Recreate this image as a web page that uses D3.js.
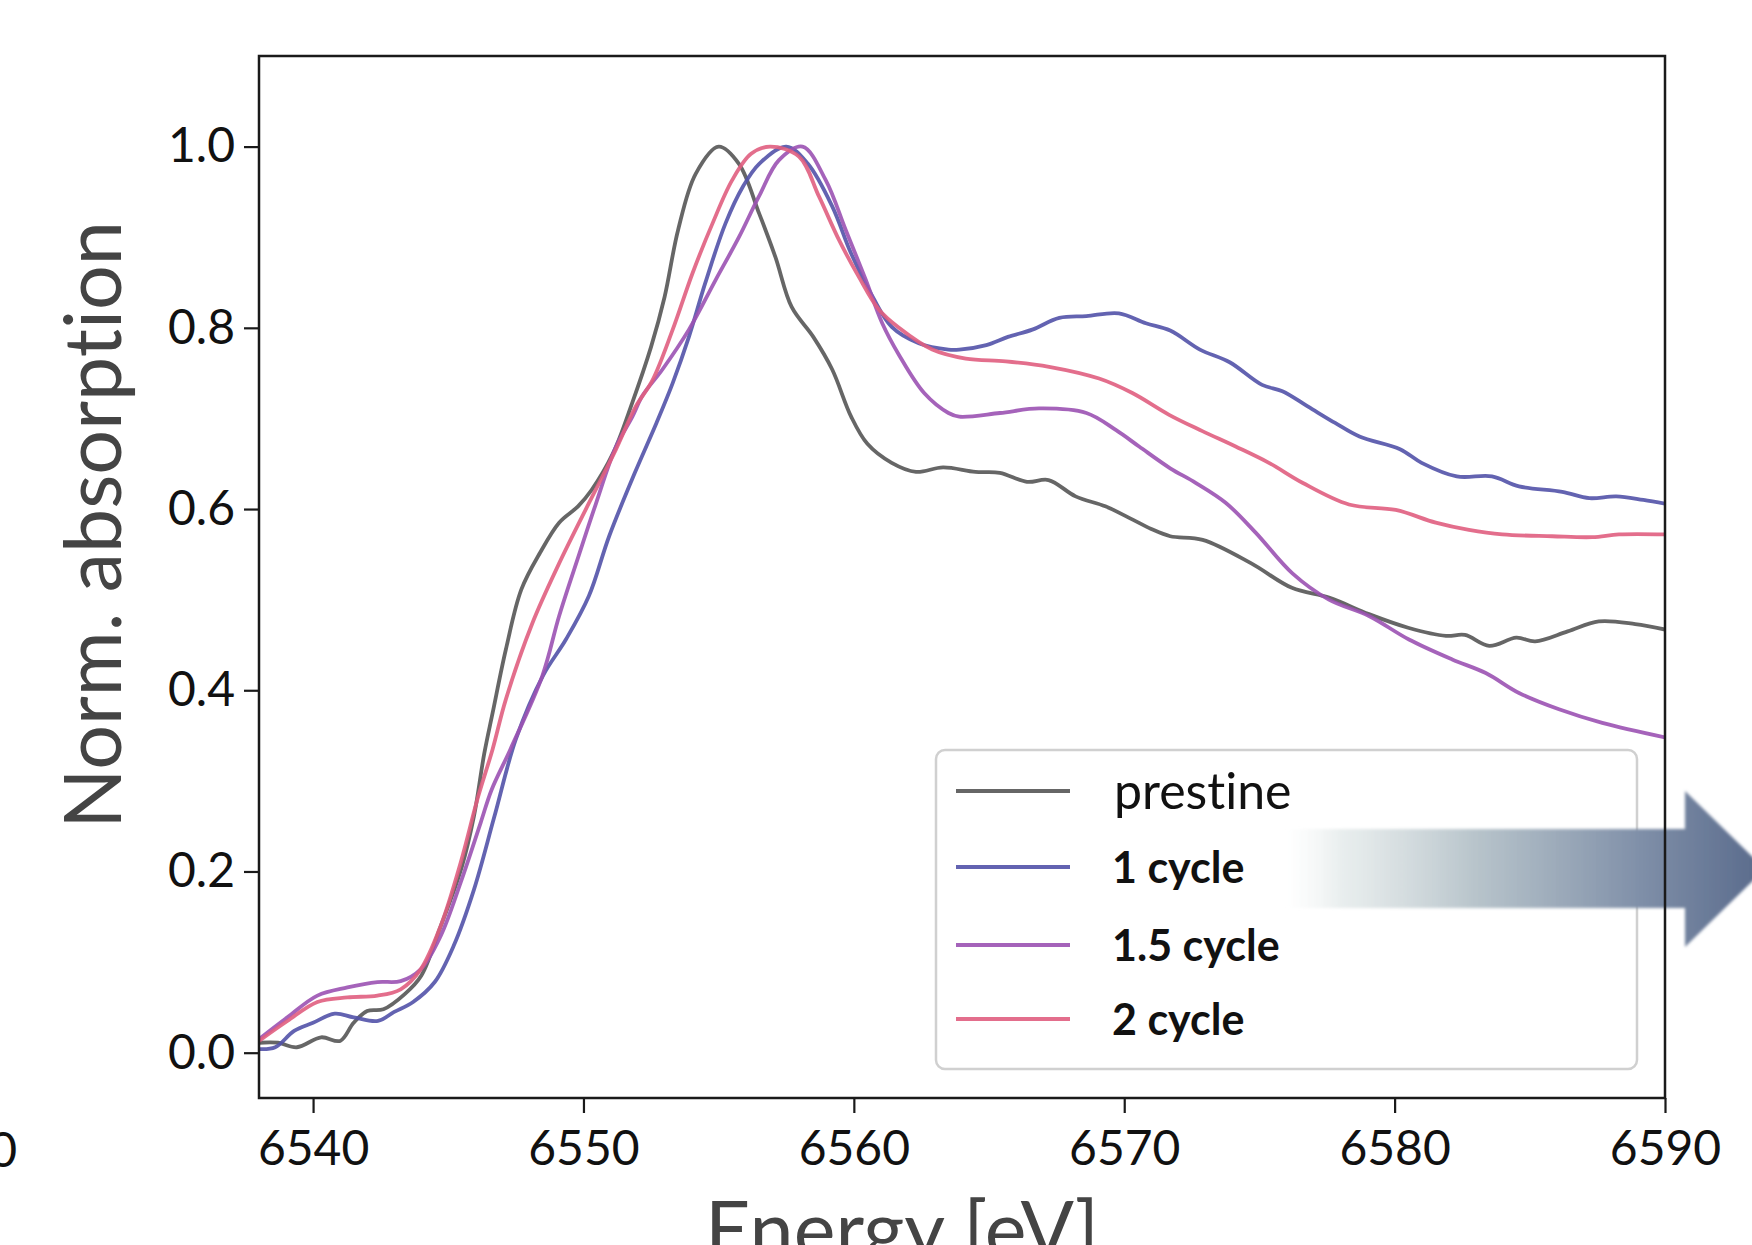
<!DOCTYPE html>
<html>
<head>
<meta charset="utf-8">
<script src="https://cdn.jsdelivr.net/npm/d3@7"></script>
<style>
  html, body { margin: 0; padding: 0; background: #ffffff; overflow: hidden; }
  svg { display: block; }
  text { font-variant-ligatures: none; font-feature-settings: "liga" 0, "clig" 0; }
</style>
</head>
<body>
<svg id="chart" width="1752" height="1245"></svg>
<script>
// ---------------- DATA ----------------
const seriesNames = ["prestine", "1 cycle", "1.5 cycle", "2 cycle"];
const seriesColors = ["#555555", "#5252a8", "#9b52b3", "#e05e80"];
const xTicks = [6540, 6550, 6560, 6570, 6580, 6590];
const yTicks = [0.0, 0.2, 0.4, 0.6, 0.8, 1.0];

const prestineE = [6538.0, 6538.7, 6539.4, 6540.3, 6541.0, 6541.5, 6542.0, 6542.6, 6543.4, 6544.0, 6544.7, 6545.5, 6545.95, 6546.33, 6546.64, 6547.13, 6547.7, 6548.4, 6549.1, 6549.8, 6550.3, 6551.1, 6551.8, 6552.5, 6553.0, 6553.5, 6554.15, 6555.0, 6555.75, 6556.5, 6557.1, 6557.7, 6558.5, 6559.2, 6559.9, 6560.5, 6561.4, 6562.3, 6563.3, 6564.5, 6565.4, 6566.4, 6567.2, 6568.2, 6569.3, 6570.2, 6571.0, 6571.7, 6572.9, 6574.7, 6576.2, 6577.6, 6579.05, 6580.5, 6581.9, 6582.6, 6583.5, 6584.5, 6585.2, 6586.4, 6587.55, 6588.9, 6590.0];
const prestineMu = [0.011, 0.011, 0.006, 0.017, 0.013, 0.033, 0.046, 0.048, 0.065, 0.085, 0.138, 0.205, 0.261, 0.330, 0.375, 0.445, 0.511, 0.552, 0.585, 0.603, 0.621, 0.662, 0.717, 0.779, 0.834, 0.908, 0.970, 1.000, 0.981, 0.926, 0.878, 0.823, 0.790, 0.754, 0.702, 0.672, 0.651, 0.641, 0.646, 0.641, 0.640, 0.630, 0.632, 0.614, 0.603, 0.590, 0.578, 0.570, 0.566, 0.540, 0.513, 0.502, 0.484, 0.469, 0.460, 0.461, 0.449, 0.458, 0.454, 0.465, 0.476, 0.473, 0.467];

const cycle1E = [6538.0, 6538.6, 6539.3, 6540.0, 6540.8, 6541.5, 6542.4, 6543.0, 6543.7, 6544.5, 6545.2, 6545.95, 6546.7, 6547.5, 6548.5, 6549.35, 6550.2, 6550.95, 6551.9, 6552.7, 6553.3, 6553.9, 6554.5, 6555.25, 6555.9, 6556.5, 6557.5, 6558.3, 6559.2, 6559.9, 6560.7, 6561.4, 6562.4, 6563.5, 6563.9, 6564.9, 6565.7, 6566.6, 6567.6, 6568.6, 6569.8, 6570.8, 6571.7, 6572.8, 6573.9, 6575.1, 6575.85, 6576.8, 6577.8, 6578.7, 6580.2, 6581.0, 6582.3, 6583.6, 6584.6, 6586.2, 6587.2, 6588.2, 6589.2, 6590.0];
const cycle1Mu = [0.004, 0.006, 0.024, 0.033, 0.043, 0.039, 0.035, 0.045, 0.056, 0.078, 0.118, 0.180, 0.260, 0.346, 0.416, 0.456, 0.504, 0.570, 0.640, 0.695, 0.739, 0.790, 0.849, 0.915, 0.956, 0.981, 1.000, 0.981, 0.934, 0.882, 0.834, 0.801, 0.783, 0.776, 0.776, 0.781, 0.790, 0.798, 0.811, 0.813, 0.816, 0.805, 0.797, 0.776, 0.762, 0.737, 0.730, 0.713, 0.695, 0.680, 0.666, 0.651, 0.636, 0.636, 0.625, 0.619, 0.612, 0.614, 0.610, 0.606];

const cycle15E = [6538.0, 6539.05, 6540.16, 6541.27, 6542.38, 6543.24, 6543.98, 6544.72, 6545.46, 6546.2, 6546.6, 6547.3, 6548.48, 6549.1, 6549.84, 6550.45, 6551.19, 6551.81, 6552.18, 6552.92, 6553.9, 6554.89, 6555.75, 6556.49, 6557.23, 6558.1, 6558.96, 6559.7, 6560.44, 6561.05, 6561.67, 6562.6, 6563.5, 6563.9, 6565.4, 6566.85, 6568.6, 6569.7, 6570.55, 6571.7, 6572.64, 6573.75, 6574.86, 6576.22, 6577.57, 6579.05, 6580.53, 6582.13, 6583.37, 6584.6, 6586.08, 6587.68, 6590.0];
const cycle15Mu = [0.015, 0.039, 0.063, 0.072, 0.078, 0.079, 0.092, 0.129, 0.188, 0.254, 0.290, 0.335, 0.416, 0.482, 0.550, 0.605, 0.668, 0.702, 0.725, 0.754, 0.798, 0.853, 0.900, 0.945, 0.985, 1.000, 0.963, 0.908, 0.853, 0.805, 0.770, 0.728, 0.706, 0.702, 0.706, 0.711, 0.706, 0.687, 0.669, 0.645, 0.629, 0.607, 0.574, 0.529, 0.500, 0.482, 0.456, 0.434, 0.419, 0.397, 0.379, 0.364, 0.348];

const cycle2E = [6538.0, 6539.05, 6540.16, 6541.27, 6542.38, 6543.24, 6543.98, 6544.72, 6545.46, 6546.08, 6546.64, 6547.13, 6548.11, 6549.1, 6550.21, 6551.19, 6551.93, 6552.55, 6553.3, 6554.03, 6554.77, 6555.5, 6556.2, 6556.9, 6557.97, 6558.71, 6559.45, 6560.19, 6560.93, 6561.67, 6562.9, 6564.14, 6565.62, 6567.22, 6569.07, 6570.3, 6571.66, 6572.89, 6574.12, 6575.35, 6576.59, 6578.31, 6580.04, 6581.52, 6582.75, 6583.98, 6585.83, 6587.31, 6588.3, 6590.0];
const cycle2Mu = [0.013, 0.035, 0.056, 0.061, 0.063, 0.070, 0.092, 0.140, 0.210, 0.280, 0.335, 0.390, 0.474, 0.540, 0.607, 0.665, 0.713, 0.742, 0.798, 0.860, 0.915, 0.963, 0.992, 1.000, 0.989, 0.945, 0.897, 0.856, 0.820, 0.800, 0.776, 0.766, 0.763, 0.757, 0.744, 0.728, 0.704, 0.686, 0.669, 0.651, 0.629, 0.605, 0.599, 0.585, 0.577, 0.572, 0.570, 0.569, 0.572, 0.572];

const seriesE = [prestineE, cycle1E, cycle15E, cycle2E];
const seriesMu = [prestineMu, cycle1Mu, cycle15Mu, cycle2Mu];

// ---------------- LAYOUT ----------------
(function draw() {
const svg = d3.select("#chart");
const pL = 259, pR = 1665, pT = 56, pB = 1098;
const FONT = "Lato, 'Open Sans', sans-serif";

const x = d3.scaleLinear().domain([6538, 6590]).range([pL, pR]);
const y = d3.scaleLinear().domain([-0.05, 1.1]).range([pB, pT]);

const defs = svg.append("defs");
defs.append("clipPath").attr("id", "plotclip")
  .append("rect").attr("x", pL).attr("y", pT).attr("width", pR - pL).attr("height", pB - pT);

// lines
const line = d3.line().x(d => x(d[0])).y(d => y(d[1])).curve(d3.curveCatmullRom.alpha(0.5));
const gLines = svg.append("g").attr("clip-path", "url(#plotclip)");
seriesNames.forEach((name, i) => {
  const pts = seriesE[i].map((e, k) => [e, seriesMu[i][k]]);
  gLines.append("path")
    .datum(pts)
    .attr("d", line)
    .attr("fill", "none")
    .attr("stroke", seriesColors[i])
    .attr("stroke-width", 3.8)
    .attr("stroke-opacity", 0.9)
    .attr("stroke-linejoin", "round");
});

// axes
const yAxis = d3.axisLeft(y).tickValues(yTicks).tickFormat(d3.format(".1f")).tickSize(15).tickPadding(9);
const xAxis = d3.axisBottom(x).tickValues(xTicks).tickFormat(d3.format("d")).tickSize(15).tickPadding(18);

const gy = svg.append("g").attr("transform", `translate(${pL},0)`).call(yAxis);
const gx = svg.append("g").attr("transform", `translate(0,${pB})`).call(xAxis);
[gx, gy].forEach(g => {
  g.select(".domain").remove();
  g.selectAll(".tick line").attr("stroke", "#1a1a1a").attr("stroke-width", 2.2);
  g.selectAll(".tick text").attr("fill", "#111").style("font-family", FONT).style("font-size", "48px");
});

// legend
const legX = 936, legY = 750, legW = 701, legH = 319;
const gLeg = svg.append("g");
gLeg.append("rect")
  .attr("x", legX).attr("y", legY).attr("width", legW).attr("height", legH)
  .attr("rx", 9).attr("ry", 9)
  .attr("fill", "#ffffff").attr("fill-opacity", 0.85)
  .attr("stroke", "#d0d0d0").attr("stroke-width", 2.5);
const legRowY = [791, 867, 945, 1019];
seriesNames.forEach((name, i) => {
  gLeg.append("line")
    .attr("x1", 956).attr("x2", 1070)
    .attr("y1", legRowY[i]).attr("y2", legRowY[i])
    .attr("stroke", seriesColors[i]).attr("stroke-width", 4).attr("stroke-opacity", 0.9);
  gLeg.append("text")
    .attr("x", i === 0 ? 1114 : 1112)
    .attr("y", legRowY[i] + (i === 0 ? 18 : 16))
    .attr("fill", "#111")
    .style("font-family", FONT)
    .style("font-size", i === 0 ? "50px" : "43px")
    .style("font-weight", i === 0 ? "400" : "700")
    .text(name);
});

// gradient arrow
const grad = defs.append("linearGradient").attr("id", "arrowGrad")
  .attr("gradientUnits", "userSpaceOnUse")
  .attr("x1", 1285).attr("x2", 1760).attr("y1", 0).attr("y2", 0);
grad.append("stop").attr("offset", "0%").attr("stop-color", "#eef2f2").attr("stop-opacity", 0);
grad.append("stop").attr("offset", "12%").attr("stop-color", "#dfe6e6").attr("stop-opacity", 0.7);
grad.append("stop").attr("offset", "40%").attr("stop-color", "#b4c1c8").attr("stop-opacity", 0.95);
grad.append("stop").attr("offset", "75%").attr("stop-color", "#7f8fa8").attr("stop-opacity", 1);
grad.append("stop").attr("offset", "100%").attr("stop-color", "#5a6b8c").attr("stop-opacity", 1);
const blur = defs.append("filter").attr("id", "soft").attr("x", "-5%").attr("y", "-20%").attr("width", "110%").attr("height", "140%");
blur.append("feGaussianBlur").attr("stdDeviation", 1.5);

const arrowPts = [[1285, 829], [1685, 829], [1685, 791], [1765, 869], [1685, 947], [1685, 908], [1285, 908]];
svg.append("path")
  .attr("d", d3.line()(arrowPts) + "Z")
  .attr("fill", "url(#arrowGrad)")
  .attr("filter", "url(#soft)");

// frame (spines)
svg.append("rect")
  .attr("x", pL).attr("y", pT).attr("width", pR - pL).attr("height", pB - pT)
  .attr("fill", "none").attr("stroke", "#1a1a1a").attr("stroke-width", 2.5);

// axis titles
svg.append("text")
  .attr("transform", `translate(121,525) rotate(-90)`)
  .attr("text-anchor", "middle")
  .attr("fill", "#444")
  .style("font-family", FONT).style("font-size", "79px")
  .text("Norm. absorption");

svg.append("text")
  .attr("x", 902).attr("y", 1258)
  .attr("text-anchor", "middle")
  .attr("fill", "#444")
  .style("font-family", FONT).style("font-size", "79px")
  .text("Energy [eV]");

// clipped label from a neighbouring panel
svg.append("text")
  .attr("x", 17).attr("y", 1167)
  .attr("text-anchor", "end")
  .attr("fill", "#111")
  .style("font-family", FONT).style("font-size", "48px")
  .text("0");
})();
</script>
</body>
</html>
